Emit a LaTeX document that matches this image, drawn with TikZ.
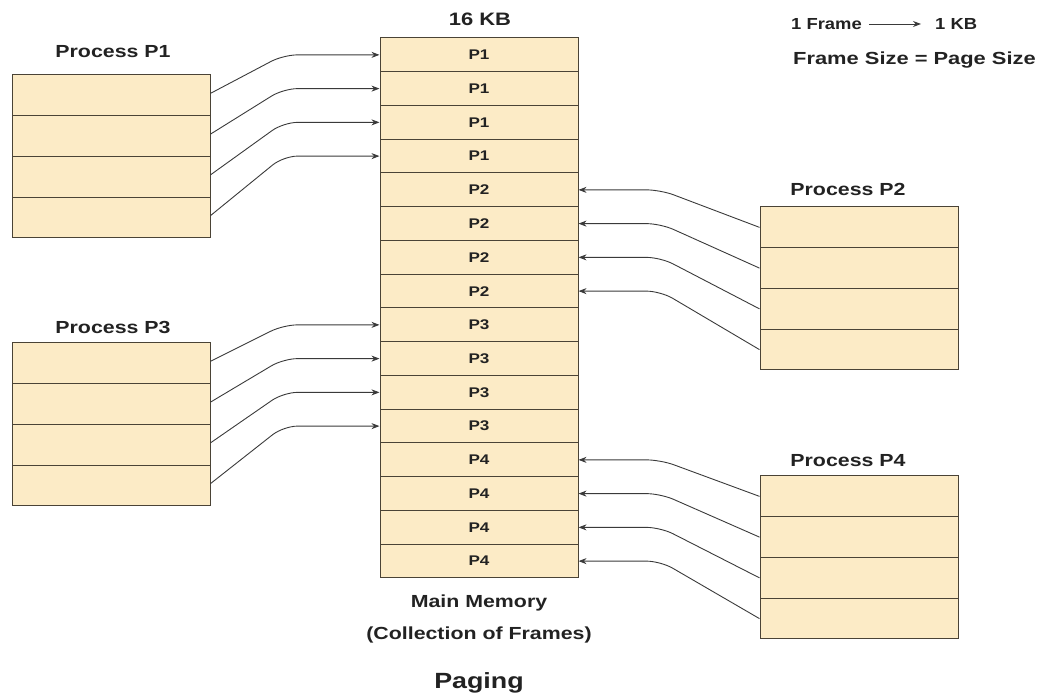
\documentclass[tikz,border=0pt]{standalone}
\usepackage{fontspec}
\setmainfont{Liberation Sans}
\usepackage{graphicx}
\usetikzlibrary{arrows.meta,calc}
\definecolor{cellfill}{HTML}{FCEBC6}
\definecolor{celldraw}{HTML}{4A4336}
\definecolor{txt}{HTML}{222222}
\definecolor{conn}{HTML}{3A3A3A}
\newcommand{\wt}[1]{\scalebox{1.22}[1]{#1}}
\tikzset{
  memcell/.style={draw=celldraw, fill=cellfill, line width=1pt, minimum width=198pt, minimum height=33.75pt, inner sep=0pt, text=txt, font=\fontsize{14}{16}\selectfont\bfseries},
  proccell/.style={draw=celldraw, fill=cellfill, line width=1pt, minimum width=198pt, minimum height=40.75pt, inner sep=0pt},
  lbl/.style={text=txt, inner sep=0pt, font=\fontsize{17.5}{20}\selectfont\bfseries},
  conn/.style={draw=conn, line width=0.9pt, rounded corners=14pt, -{Stealth[length=8pt,width=6pt]}}
}
\begin{document}
\begin{tikzpicture}[x=1pt,y=1pt]
\useasboundingbox (0,0) rectangle (1047,696);
% main memory
\foreach \i/\t in {1/P1,2/P1,3/P1,4/P1,5/P2,6/P2,7/P2,8/P2,9/P3,10/P3,11/P3,12/P3,13/P4,14/P4,15/P4,16/P4}{
  \pgfmathsetmacro{\yy}{696-38-33.75*(\i-0.5)}
  \node[memcell] (m\i) at (479,\yy) {\wt{\t}};
}
% processes
\foreach \p/\xx/\top in {1/111/75,3/111/343,2/859/207,4/859/476}{
  \foreach \r in {1,2,3,4}{
    \pgfmathsetmacro{\yy}{696-\top-40.75*(\r-0.5)}
    \node[proccell] (p\p r\r) at (\xx,\yy) {};
  }
}
% labels
\node[lbl] (l1) at (113,644) {\wt{Process P1}};
\node[lbl] (l3) at (113,369) {\wt{Process P3}};
\node[lbl] (l2) at (848,507) {\wt{Process P2}};
\node[lbl] (l4) at (848,235) {\wt{Process P4}};
\node[lbl, font=\fontsize{18}{20}\selectfont\bfseries] (kb) at (480,677) {\wt{16 KB}};
\node[lbl] (mm) at (479,93) {\wt{Main Memory}};
\node[lbl] (cf) at (479,61) {\wt{(Collection of Frames)}};
\node[lbl, font=\fontsize{22}{24}\selectfont\bfseries] (pg) at (479,13) {\wt{Paging}};
\node[lbl, anchor=west, font=\fontsize{16}{18}\selectfont\bfseries] (fr) at (791,672) {\scalebox{1.15}[1]{1 Frame}};
\node[lbl, anchor=west, font=\fontsize{16}{18}\selectfont\bfseries] (ok) at (935,672) {\scalebox{1.15}[1]{1 KB}};
\node[lbl, anchor=west] (fs) at (793,636) {\scalebox{1.25}[1]{Frame Size = Page Size}};
\draw[draw=conn, line width=0.9pt, -{Stealth[length=8pt,width=6pt]}] ([xshift=7pt]fr.east) -- ([xshift=-14pt]ok.west);
% connectors
\foreach \r/\m in {1/1,2/2,3/3,4/4}{
  \draw[conn] ([yshift=2pt]p1r\r.east) -- ($(m\m.west)+(-96,0)$) -- (m\m.west);
}
\foreach \r/\m in {1/9,2/10,3/11,4/12}{
  \draw[conn] ([yshift=2pt]p3r\r.east) -- ($(m\m.west)+(-96,0)$) -- (m\m.west);
}
\foreach \r/\m in {1/5,2/6,3/7,4/8}{
  \draw[conn] (p2r\r.west) -- ($(m\m.east)+(82,0)$) -- (m\m.east);
}
\foreach \r/\m in {1/13,2/14,3/15,4/16}{
  \draw[conn] (p4r\r.west) -- ($(m\m.east)+(82,0)$) -- (m\m.east);
}
\end{tikzpicture}
\end{document}
